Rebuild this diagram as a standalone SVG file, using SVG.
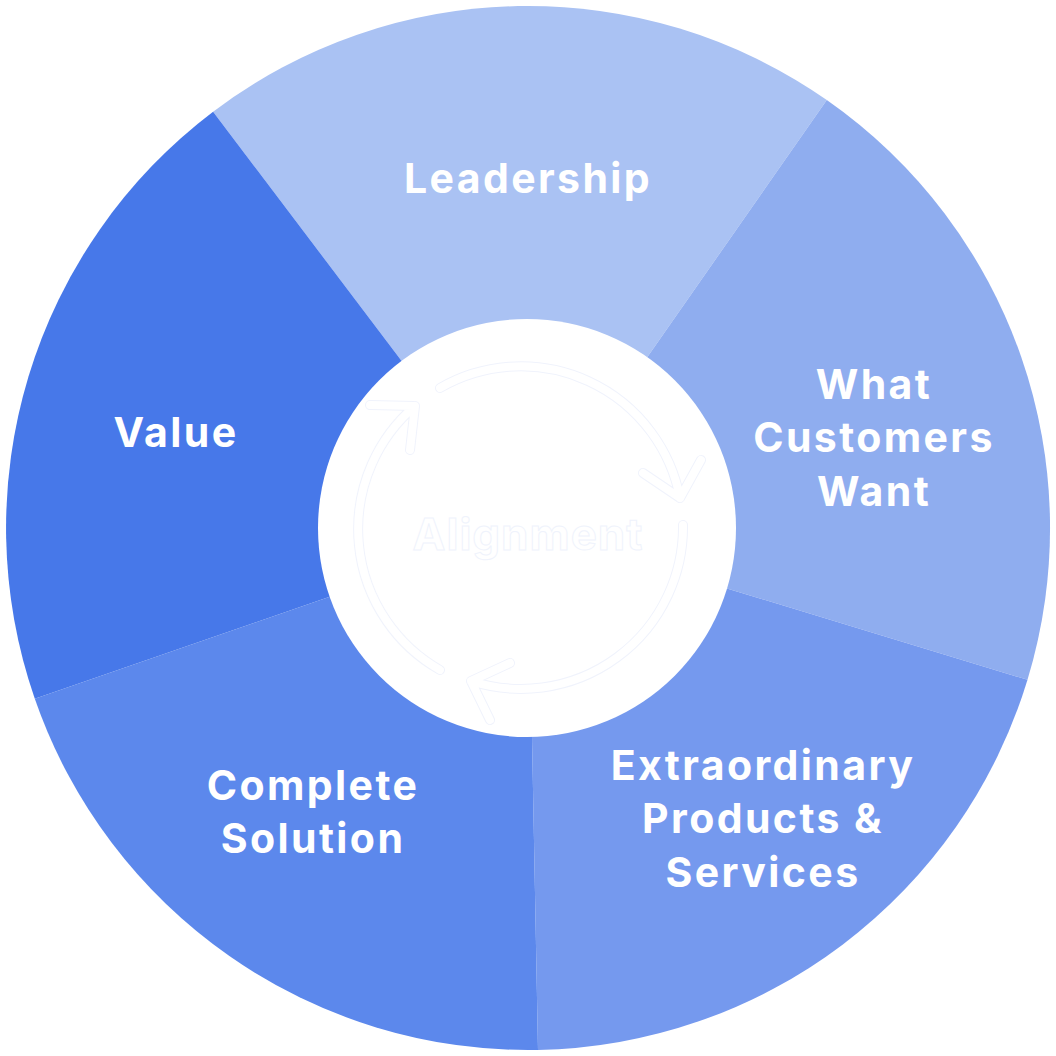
<svg xmlns="http://www.w3.org/2000/svg" width="1056" height="1056" viewBox="0 0 1056 1056">
  <style>
    .lbl { font-family: Inter, "Liberation Sans", sans-serif; font-weight: 700; font-size: 41px; letter-spacing: 2.4px; fill: #ffffff; text-anchor: middle; }
    .ctr { font-family: Inter, "Liberation Sans", sans-serif; font-weight: 700; font-size: 44px; letter-spacing: 1px; fill: #ffffff; stroke: #eff3fc; stroke-width: 1; text-anchor: middle; }
    .arrowOut { fill: none; stroke: #f0f3fc; stroke-width: 10; stroke-linecap: round; stroke-linejoin: round; }
    .arrowIn { fill: none; stroke: #ffffff; stroke-width: 8; stroke-linecap: round; stroke-linejoin: round; }
  </style>
  <rect width="1056" height="1056" fill="#ffffff"/>
  <g id="node-leadership">
    <path d="M528,528 L213.1,111.7 A522,522 0 0 1 826.8,100 Z" fill="#AAC2F3"/>
    <text class="lbl" x="528" y="193">Leadership</text>
  </g>
  <g id="node-what-customers-want">
    <path d="M528,528 L826.8,100 A522,522 0 0 1 1027.5,679.8 Z" fill="#8FADEF"/>
    <text class="lbl" x="874" y="399">What</text>
    <text class="lbl" x="874" y="452">Customers</text>
    <text class="lbl" x="874" y="506">Want</text>
  </g>
  <g id="node-extraordinary">
    <path d="M528,528 L1027.5,679.8 A522,522 0 0 1 538,1049.9 Z" fill="#7599EE"/>
    <text class="lbl" x="763" y="780">Extraordinary</text>
    <text class="lbl" x="763" y="833">Products &amp;</text>
    <text class="lbl" x="763" y="887">Services</text>
  </g>
  <g id="node-complete-solution">
    <path d="M528,528 L538,1049.9 A522,522 0 0 1 34.8,698.8 Z" fill="#5C88EC"/>
    <text class="lbl" x="313" y="800">Complete</text>
    <text class="lbl" x="313" y="853">Solution</text>
  </g>
  <g id="node-value">
    <path d="M528,528 L34.8,698.8 A522,522 0 0 1 213.1,111.7 Z" fill="#4778E9"/>
    <text class="lbl" x="176" y="447">Value</text>
  </g>
  <g id="node-alignment">
    <circle cx="527" cy="528" r="209" fill="#ffffff"/>
  </g>
  <g id="connectors">
    <g class="arrowOut">
      <path d="M440,388 A162,162 0 0 1 680,498 M643,473 L680,498 L701,460"/>
      <path d="M683,525 A162,162 0 0 1 471,681 M510,663 L471,681 L490,720"/>
      <path d="M440,670 A162,162 0 0 1 415,406 M370,405 L415,406 L410,450"/>
    </g>
    <g class="arrowIn">
      <path d="M440,388 A162,162 0 0 1 680,498 M643,473 L680,498 L701,460"/>
      <path d="M683,525 A162,162 0 0 1 471,681 M510,663 L471,681 L490,720"/>
      <path d="M440,670 A162,162 0 0 1 415,406 M370,405 L415,406 L410,450"/>
    </g>
  </g>
  <text class="ctr" x="528" y="550">Alignment</text>
</svg>
